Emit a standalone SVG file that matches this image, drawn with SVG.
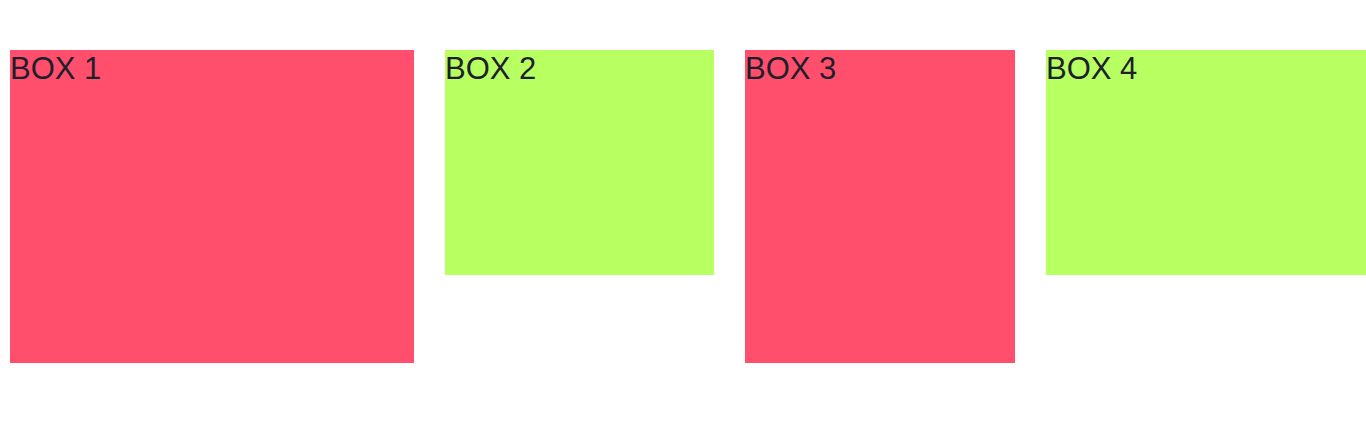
<svg xmlns="http://www.w3.org/2000/svg" width="1366" height="444" viewBox="0 0 1366 444">
<style>
.red{fill:#FF4F6D}
.green{fill:#B8FF62}
.lbl{font-family:"Liberation Sans",Arial,sans-serif;font-size:31px;fill:#1F1F2B}
</style>
<rect width="1366" height="444" fill="#FFFFFF"/>
<g id="box1"><rect class="red" x="10" y="50" width="404" height="313"/><text class="lbl" x="10" y="79">BOX 1</text></g>
<g id="box2"><rect class="green" x="445" y="50" width="269" height="225"/><text class="lbl" x="445" y="79">BOX 2</text></g>
<g id="box3"><rect class="red" x="745" y="50" width="270" height="313"/><text class="lbl" x="745" y="79">BOX 3</text></g>
<g id="box4"><rect class="green" x="1046" y="50" width="320" height="225"/><text class="lbl" x="1046" y="79">BOX 4</text></g>
<g id="connectors"></g>
</svg>
